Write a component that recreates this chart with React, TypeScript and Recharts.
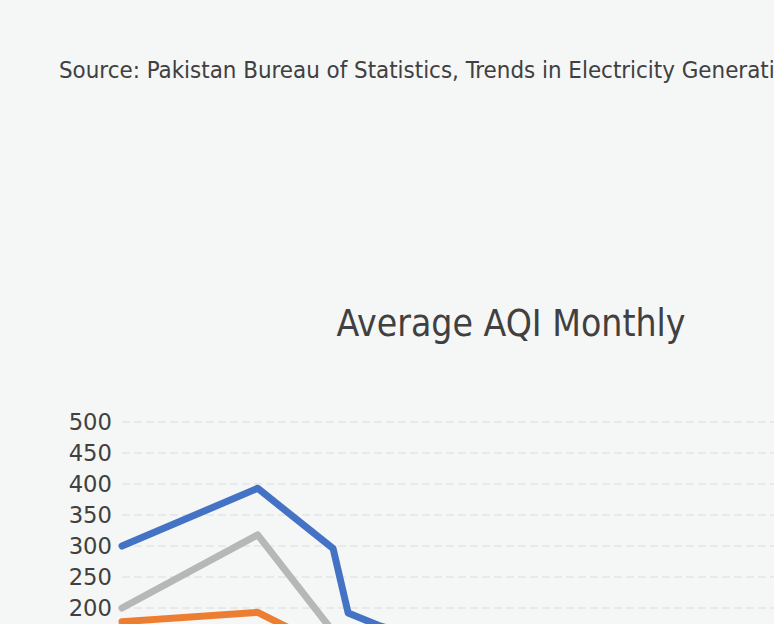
import { LineChart, Line, XAxis, YAxis, CartesianGrid } from 'recharts';

// x = month index along the series (points are irregularly spaced)
const months = [0, 9, 14, 15, 17, 20];
const seriesA = [300, 393, 296, 192, 172, 150];
const seriesB = [200, 318, 162, 150, 140, 130];
const seriesC = [178, 193, 132, 125, 120, 115];
const yTicks = [0, 50, 100, 150, 200, 250, 300, 350, 400, 450, 500];

const data = months.map((m, i) => ({
  month: m,
  a: seriesA[i],
  b: seriesB[i],
  c: seriesC[i],
}));

const font = "'DejaVu Sans Condensed', 'Liberation Sans Narrow', 'DejaVu Sans', sans-serif";
const tickFont = "'DejaVu Sans', sans-serif";
const textColor = '#404040';

export default function App() {
  return (
    <div
      style={{
        position: 'fixed',
        inset: 0,
        overflow: 'hidden',
        background: '#f5f6f6',
        fontFamily: font,
        color: textColor,
      }}
    >
      <div
        style={{
          position: 'absolute',
          left: 59,
          top: 55,
          fontSize: 23.85,
          whiteSpace: 'nowrap',
          lineHeight: '30px',
        }}
      >
        Source: Pakistan Bureau of Statistics, Trends in Electricity Generation
      </div>
      <div
        style={{
          position: 'absolute',
          left: 311,
          width: 400,
          top: 301,
          fontSize: 37,
          textAlign: 'center',
          whiteSpace: 'nowrap',
          lineHeight: '46px',
        }}
      >
        Average AQI Monthly
      </div>
      <div style={{ position: 'absolute', left: 0, top: 0 }}>
        <LineChart
          width={920}
          height={800}
          data={data}
          margin={{ top: 422, right: 14, bottom: 38, left: 0 }}
        >
          <CartesianGrid
            vertical={false}
            stroke="#e3e5e5"
            strokeWidth={1.5}
            strokeDasharray="8 4"
          />
          <XAxis
            dataKey="month"
            type="number"
            domain={[0, 52]}
            height={30}
            axisLine={false}
            tickLine={false}
            tick={false}
          />
          <YAxis
            domain={[0, 500]}
            ticks={yTicks}
            width={122}
            axisLine={false}
            tickLine={false}
            tickSize={0}
            tickMargin={10}
            tick={{ fill: textColor, fontSize: 22.7, fontFamily: tickFont }}
          />
          <Line
            dataKey="a"
            stroke="#4472c4"
            strokeWidth={7}
            strokeLinecap="round"
            strokeLinejoin="round"
            dot={false}
            isAnimationActive={false}
          />
          <Line
            dataKey="b"
            stroke="#b7b7b7"
            strokeWidth={7}
            strokeLinecap="round"
            strokeLinejoin="round"
            dot={false}
            isAnimationActive={false}
          />
          <Line
            dataKey="c"
            stroke="#ed7d31"
            strokeWidth={7}
            strokeLinecap="round"
            strokeLinejoin="round"
            dot={false}
            isAnimationActive={false}
          />
        </LineChart>
      </div>
    </div>
  );
}
